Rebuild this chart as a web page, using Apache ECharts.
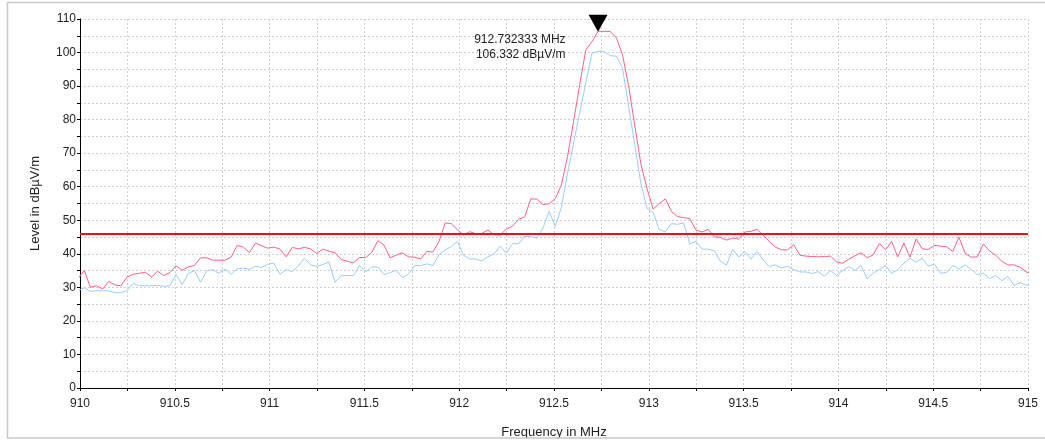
<!DOCTYPE html>
<html>
<head>
<meta charset="utf-8">
<script src="https://cdn.jsdelivr.net/npm/echarts@6/dist/echarts.min.js"></script>
<style>
html,body{margin:0;padding:0;background:#fff;}
#chart{width:1045px;height:443px;}
</style>
</head>
<body>
<div id="chart"></div>
<script>
// Sweep grid (MHz): points every 1/31 MHz, one point outside each end (clipped)
const sweepStart = 909.990398;
const sweepStep = 1 / 31;

// Peak detector trace (dBµV/m)
const peakValues = [
  32.7, 35.0, 30.0, 30.5, 29.5, 31.8, 30.7, 30.5, 33.1, 33.9,
  34.2, 34.5, 33.1, 34.8, 33.5, 34.4, 36.4, 35.1, 36.1, 36.5,
  38.8, 38.8, 38.1, 38.1, 38.1, 39.0, 42.5, 42.0, 40.4, 43.2,
  42.4, 41.7, 42.0, 41.4, 39.1, 41.9, 41.5, 41.9, 41.5, 40.1,
  41.4, 40.8, 40.3, 38.3, 37.8, 37.3, 38.9, 38.9, 40.4, 43.9,
  42.6, 38.8, 39.6, 40.3, 39.1, 39.0, 38.5, 40.7, 40.5, 43.7,
  49.2, 49.0, 47.2, 45.6, 46.6, 46.0, 46.1, 47.1, 45.7, 45.6,
  47.4, 48.2, 50.3, 51.0, 56.4, 56.3, 54.7, 54.9, 56.4, 60.5,
  69.0, 79.5, 90.5, 100.8, 103.2, 106.332, 106.3, 106.3, 104.4, 99.3,
  90.1, 78.2, 66.8, 59.5, 53.3, 55.0, 56.4, 52.6, 51.1, 50.8,
  50.5, 47.1, 46.5, 47.3, 45.1, 44.9, 44.1, 44.7, 44.4, 46.5,
  46.7, 47.3, 45.5, 43.7, 42.0, 41.2, 41.2, 42.7, 39.6, 39.3,
  39.2, 39.1, 39.2, 39.3, 37.6, 37.2, 38.4, 39.4, 40.3, 38.8,
  39.7, 43.1, 41.2, 43.7, 39.1, 43.2, 39.0, 44.4, 41.5, 41.3,
  42.5, 42.3, 42.1, 40.7, 45.0, 40.2, 39.0, 39.1, 42.9, 40.9,
  39.6, 37.8, 36.7, 36.7, 36.0, 34.6, 34.0
];

// Average detector trace (dBµV/m)
const avgValues = [
  29.0, 29.9, 28.8, 29.0, 29.0, 29.0, 28.4, 28.4, 29.1, 31.2,
  30.5, 30.5, 30.5, 30.6, 30.3, 30.5, 33.8, 30.8, 34.1, 35.0,
  31.5, 34.9, 35.3, 34.2, 35.5, 33.9, 35.6, 35.7, 35.4, 36.3,
  35.9, 36.9, 37.2, 33.9, 35.3, 34.7, 36.4, 38.7, 36.7, 36.3,
  36.8, 37.6, 31.5, 33.5, 33.5, 33.5, 36.5, 34.6, 36.1, 36.1,
  33.8, 34.4, 35.1, 32.9, 34.0, 36.5, 36.5, 37.0, 36.5, 39.7,
  41.1, 42.2, 43.7, 39.6, 38.5, 38.4, 37.9, 39.1, 40.0, 42.3,
  40.2, 43.0, 43.0, 45.2, 45.2, 44.7, 47.7, 52.7, 48.2, 53.8,
  64.0, 73.0, 82.0, 91.0, 99.8, 100.4, 100.3, 99.1, 98.9, 95.4,
  84.0, 72.5, 61.0, 53.6, 52.4, 47.2, 46.5, 49.0, 48.8, 49.2,
  43.0, 43.7, 41.4, 41.4, 40.9, 37.8, 36.6, 41.4, 39.0, 40.7,
  38.4, 40.7, 38.2, 36.2, 36.7, 35.8, 36.3, 35.3, 34.6, 34.6,
  34.1, 34.7, 33.3, 35.0, 33.6, 35.0, 36.2, 35.1, 36.5, 32.5,
  34.3, 35.3, 36.5, 34.2, 35.3, 37.2, 38.7, 37.5, 38.7, 36.3,
  36.9, 34.2, 34.5, 36.5, 35.5, 36.7, 35.4, 33.8, 34.2, 32.6,
  33.5, 32.0, 33.3, 30.6, 31.4, 30.7, 30.5
];

const limitValue = 46;
const markerFreq = 912.732333;
const markerLevel = 106.332;
const markerText = ['912.732333 MHz', '106.332 dBµV/m'];

const xTickLabels = ['910', '910.5', '911', '911.5', '912', '912.5', '913', '913.5', '914', '914.5', '915'];
const yTickLabels = ['0', '10', '20', '30', '40', '50', '60', '70', '80', '90', '100', '110'];

const peakData = peakValues.map((v, i) => [sweepStart + i * sweepStep, v]);
const avgData = avgValues.map((v, i) => [sweepStart + i * sweepStep, v]);

const FONT = '"Liberation Sans", Arial, sans-serif';
const chart = echarts.init(document.getElementById('chart'));
chart.setOption({
  animation: false,
  backgroundColor: '#fff',
  textStyle: { fontFamily: FONT },
  grid: { left: 80, top: 19, width: 948, height: 369, containLabel: false, outerBoundsMode: 'none' },
  xAxis: {
    type: 'value', min: 910, max: 915, interval: 0.25,
    name: 'Frequency in MHz', nameLocation: 'middle', nameGap: 38,
    nameTextStyle: { fontFamily: FONT, fontSize: 13, color: '#222' },
    axisLine: { show: true, onZero: false, lineStyle: { color: '#000', width: 1 } },
    axisTick: { show: true, length: 3, lineStyle: { color: '#000' } },
    axisLabel: {
      color: '#222', fontSize: 12, fontFamily: FONT, margin: 10,
      formatter: v => { const s = String(Math.round(v * 100) / 100); return xTickLabels.includes(s) ? s : ''; }
    },
    splitLine: { show: true, lineStyle: { color: '#cfcfcf', type: [2, 2], width: 1 } }
  },
  yAxis: {
    type: 'value', min: 0, max: 110, interval: 5,
    name: 'Level in dBµV/m', nameLocation: 'middle', nameGap: 38, nameRotate: 90,
    nameTextStyle: { fontFamily: FONT, fontSize: 13, color: '#222' },
    axisLine: { show: true, lineStyle: { color: '#000', width: 1 } },
    axisTick: { show: true, length: 3, lineStyle: { color: '#000' } },
    axisLabel: {
      color: '#222', fontSize: 12, fontFamily: FONT, margin: 4,
      formatter: v => { const s = String(v); return yTickLabels.includes(s) ? s : ''; }
    },
    splitLine: { show: true, lineStyle: { color: '#cfcfcf', type: [2, 2], width: 1 } }
  },
  series: [
    {
      name: 'Average', type: 'line', data: avgData, showSymbol: false, symbol: 'none',
      clip: true, lineStyle: { color: '#99ccff', width: 1 }, z: 2
    },
    {
      name: 'Peak', type: 'line', data: peakData, showSymbol: false, symbol: 'none',
      clip: true, lineStyle: { color: '#ff5f87', width: 1 }, z: 3,
      markPoint: {
        symbol: 'path://M0,0 L20,0 L10,18 Z',
        symbolSize: [19, 17],
        symbolOffset: [0, -8],
        itemStyle: { color: '#000' },
        label: {
          show: true, position: 'left', distance: 23, offset: [0, 24],
          formatter: markerText.join('\n'), color: '#222', fontSize: 12,
          fontFamily: FONT, lineHeight: 15, align: 'right'
        },
        data: [{ coord: [markerFreq, markerLevel] }]
      }
    },
    {
      name: 'Limit', type: 'line', data: [], z: 4,
      markLine: {
        silent: true, symbol: 'none', label: { show: false },
        lineStyle: { color: '#ee1111', width: 2, type: 'solid' },
        data: [{ yAxis: limitValue }]
      }
    }
  ],
  graphic: [
    { type: 'rect', z: 100, shape: { x: 0, y: 438.5, width: 1045, height: 5 }, style: { fill: '#fff' } },
    { type: 'rect', z: 101, shape: { x: 7.5, y: 2.5, width: 1045, height: 435.5 }, style: { fill: 'none', stroke: '#c8c8c8', lineWidth: 1.5 } }
  ]
});
</script>
</body>
</html>
